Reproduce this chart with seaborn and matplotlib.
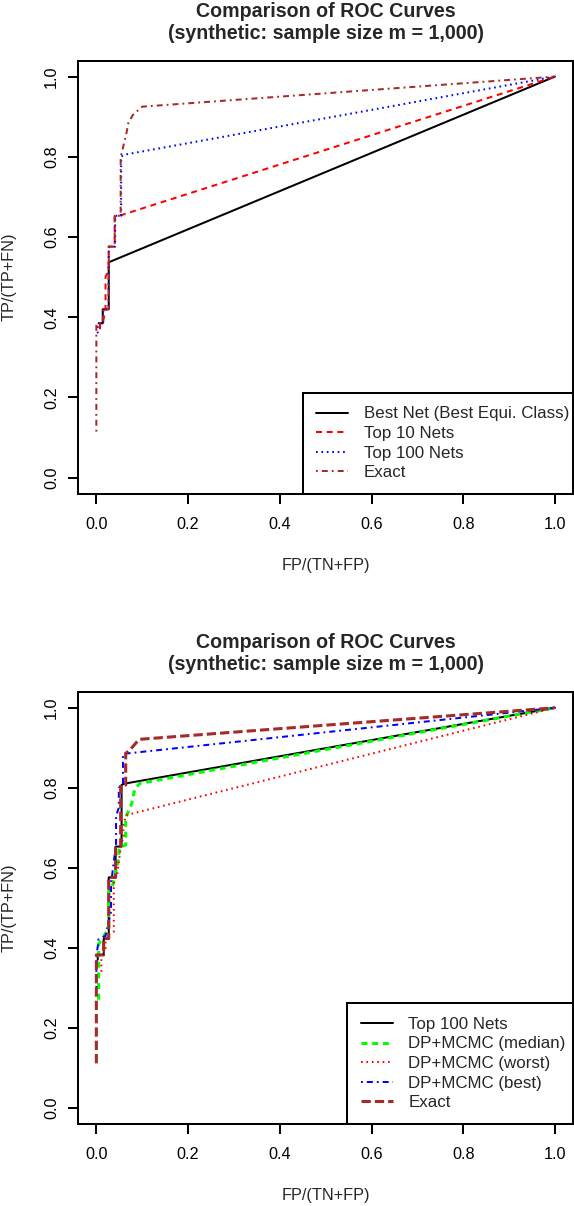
import matplotlib
matplotlib.use("Agg")
import matplotlib.pyplot as plt
import seaborn as sns

# ---- data ----
# top panel
best_fp = [0.005, 0.014, 0.014, 0.027, 0.027, 1.0]
best_tp = [0.385, 0.385, 0.420, 0.420, 0.537, 1.0]

top10_fp = [0.008, 0.008, 0.014, 0.020, 0.020, 0.027, 0.027, 0.040, 0.040, 0.050, 1.0]
top10_tp = [0.370, 0.385, 0.385, 0.420, 0.500, 0.520, 0.576, 0.576, 0.653, 0.653, 1.0]

top100_fp = [0.003, 0.003, 0.015, 0.015, 0.027, 0.027, 0.041, 0.041, 0.054, 0.054, 0.060, 1.0]
top100_tp = [0.360, 0.385, 0.385, 0.420, 0.420, 0.576, 0.576, 0.653, 0.653, 0.800, 0.805, 1.0]

exact_fp = [0, 0, 0.014, 0.014, 0.027, 0.027, 0.040, 0.040, 0.053, 0.053, 0.064, 0.070, 0.080, 0.100, 1.0]
exact_tp = [0.115, 0.385, 0.385, 0.420, 0.420, 0.576, 0.576, 0.653, 0.653, 0.800, 0.850, 0.885, 0.905, 0.925, 1.0]

# bottom panel
top100b_fp = [0.003, 0.003, 0.016, 0.016, 0.027, 0.027, 0.042, 0.042, 0.055, 0.055, 0.060, 1.0]
top100b_tp = [0.370, 0.382, 0.382, 0.423, 0.423, 0.576, 0.576, 0.653, 0.653, 0.807, 0.810, 1.0]

median_fp = [0.005, 0.005, 0.012, 0.027, 0.027, 0.037, 0.048, 0.050, 0.064, 0.064, 0.077, 0.084, 0.095, 1.0]
median_tp = [0.270, 0.410, 0.420, 0.450, 0.540, 0.560, 0.620, 0.650, 0.657, 0.725, 0.760, 0.798, 0.811, 1.0]

worst_fp = [0.011, 0.011, 0.020, 0.020, 0.038, 0.038, 0.045, 0.052, 0.059, 0.059, 0.066, 1.0]
worst_tp = [0.340, 0.390, 0.390, 0.430, 0.440, 0.570, 0.580, 0.640, 0.680, 0.710, 0.732, 1.0]

bestmc_fp = [0, 0, 0.004, 0.004, 0.020, 0.032, 0.032, 0.043, 0.043, 0.049, 0.049, 0.058, 0.058, 0.069, 1.0]
bestmc_tp = [0.300, 0.380, 0.410, 0.420, 0.430, 0.490, 0.560, 0.660, 0.730, 0.750, 0.800, 0.810, 0.885, 0.886, 1.0]

exactb_fp = [0, 0, 0.016, 0.016, 0.027, 0.027, 0.042, 0.042, 0.053, 0.053, 0.064, 0.064, 0.073, 0.093, 1.0]
exactb_tp = [0.111, 0.382, 0.382, 0.423, 0.423, 0.576, 0.576, 0.653, 0.653, 0.807, 0.807, 0.886, 0.894, 0.921, 1.0]

ticks = [0.0, 0.2, 0.4, 0.6, 0.8, 1.0]
tick_labels = ["0.0", "0.2", "0.4", "0.6", "0.8", "1.0"]

title = "Comparison of ROC Curves\n(synthetic: sample size m = 1,000)"

sns.set_style("ticks")
plt.rcParams["font.family"] = ["Liberation Sans", "DejaVu Sans"]
plt.rcParams["lines.scale_dashes"] = False
plt.rcParams["lines.dash_capstyle"] = "butt"

FS = 11.7
LEG_FS = 12.2
LW = 1.45

SOLID = "-"
DASHED = (0, (4.3, 3.4))
DOTTED = (0, (1.2, 2.7))
DOTDASH = (0, (1.3, 2.9, 4.3, 2.9))
LONGDASH = (0, (6.7, 2.9))

top_series = [
    (best_fp, best_tp, "Best Net (Best Equi. Class)", "black", LW, SOLID),
    (top10_fp, top10_tp, "Top 10 Nets", "red", LW, DASHED),
    (top100_fp, top100_tp, "Top 100 Nets", "blue", LW, DOTTED),
    (exact_fp, exact_tp, "Exact", "#A52A2A", LW, DOTDASH),
]
bottom_series = [
    (top100b_fp, top100b_tp, "Top 100 Nets", "black", LW, SOLID),
    (median_fp, median_tp, "DP+MCMC (median)", "#00FF00", 2.2, DASHED),
    (worst_fp, worst_tp, "DP+MCMC (worst)", "red", LW, DOTTED),
    (bestmc_fp, bestmc_tp, "DP+MCMC (best)", "blue", LW, DOTDASH),
    (exactb_fp, exactb_tp, "Exact", "#A52A2A", 2.2, LONGDASH),
]

fig = plt.figure(figsize=(5.74, 12.06), dpi=100)
ax_top = fig.add_axes([0.1359, 0.5906, 0.8629, 0.3592])
ax_bot = fig.add_axes([0.1359, 0.0682, 0.8629, 0.3582])


def draw_panel(ax, series, leg_left):
    for fp, tp, lab, col, lw, ls in series:
        sns.lineplot(x=fp, y=tp, ax=ax, estimator=None, sort=False,
                     color=col, linewidth=lw, linestyle=ls, label=lab)
    ax.set_xlim(-0.04, 1.04)
    ax.set_ylim(-0.04, 1.04)
    ax.set_xticks(ticks)
    ax.set_xticklabels(tick_labels)
    ax.set_yticks(ticks)
    ax.set_yticklabels(tick_labels, rotation=90, va="center")
    ax.tick_params(axis="both", direction="out", length=7.2, width=LW,
                   labelsize=FS, colors="black")
    ax.tick_params(axis="x", pad=9.5)
    ax.tick_params(axis="y", pad=6.5)
    for sp in ax.spines.values():
        sp.set_visible(True)
        sp.set_linewidth(LW)
        sp.set_color("black")
    ax.set_xlabel("FP/(TN+FP)", fontsize=FS)
    ax.set_ylabel("TP/(TP+FN)", fontsize=FS)
    ax.xaxis.set_label_coords(0.5, -0.148)
    ax.yaxis.set_label_coords(-0.124, 0.5)
    ax.set_title(title, fontsize=14.1, fontweight="bold", pad=15.5, linespacing=1.22)
    leg = ax.legend(loc="lower left", bbox_to_anchor=(leg_left, 0, 1 - leg_left, 0.5),
                    mode="expand", borderaxespad=0, fontsize=LEG_FS, frameon=True,
                    fancybox=False, framealpha=1, edgecolor="black",
                    handlelength=1.9, handletextpad=0.9, borderpad=0.8,
                    labelspacing=0.27)
    leg.get_frame().set_linewidth(LW)


draw_panel(ax_top, top_series, 0.4537)
draw_panel(ax_bot, bottom_series, 0.5437)

fig.savefig("out.png", dpi=100)
